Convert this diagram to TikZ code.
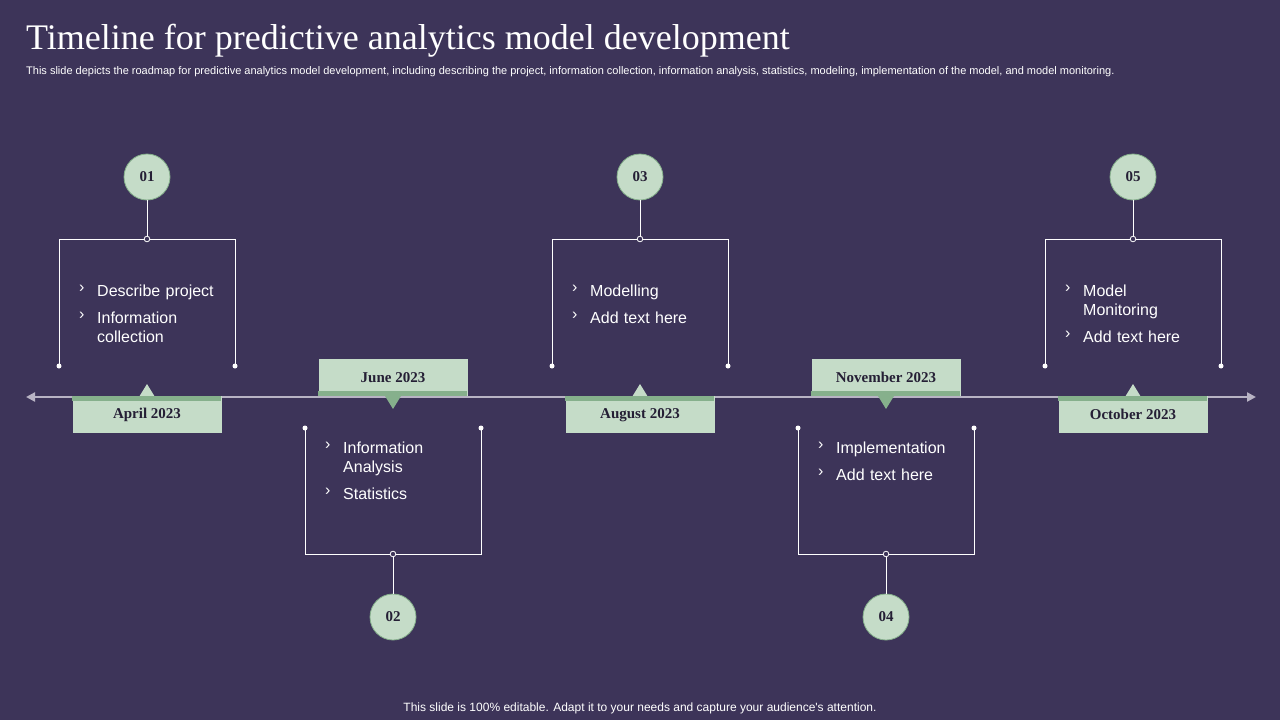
\documentclass[tikz,border=0pt]{standalone}
\usepackage{fontspec}
\setmainfont{Liberation Serif}
\newfontfamily\sans{Liberation Sans}
\usetikzlibrary{arrows.meta}
\definecolor{bg}{HTML}{3D3459}
\definecolor{lg}{HTML}{C5DCC8}
\definecolor{dg}{HTML}{86B08C}
\definecolor{tl}{HTML}{B8B3C4}
\tikzset{
 numc/.style={circle,fill=lg,draw=dg,line width=0.8pt,minimum size=46pt,inner sep=0pt,font=\fontsize{15}{15}\selectfont\bfseries,text=bg!60!black},
 datebox/.style={fill=lg,minimum width=149pt,minimum height=37pt,inner sep=0pt,font=\fontsize{15}{15}\selectfont\bfseries,text=bg!60!black},
 brk/.style={draw=white,line width=1pt},
 item/.style={anchor=north west,align=left,text=white,font=\sans\fontsize{16}{19}\selectfont,inner sep=0pt,text width=130pt},
 bul/.style={anchor=north west,text=white,font=\sans\fontsize{16}{19}\selectfont,inner sep=0pt}
}
\begin{document}
\begin{tikzpicture}[x=1pt,y=-1pt]
\fill[bg] (0,0) rectangle (1280,720);
\useasboundingbox (0,0) rectangle (1280,720);
\node[anchor=west,text=white,font=\fontsize{36}{36}\selectfont,inner sep=0pt] (title) at (26,41) {Timeline for predictive analytics model development};
\node[anchor=west,text=white,font=\sans\fontsize{11}{11}\selectfont,inner sep=0pt] (sub) at (26,72) {This slide depicts the roadmap for predictive analytics model development, including describing the project, information collection, information analysis, statistics, modeling, implementation of the model, and model monitoring.};
\node[text=white,font=\sans\fontsize{12}{12}\selectfont,inner sep=0pt] (foot) at (640,708) {This slide is 100\% editable. Adapt it to your needs and capture your audience's attention.};
\coordinate (L) at (26,397); \coordinate (R) at (1256,397);
\draw[tl,line width=2.5pt,{Triangle[length=9pt,width=9pt]}-{Triangle[length=9pt,width=9pt]}] (L) -- (R);
% top milestones
\foreach \cx/\n/\d in {147/01/April 2023,640/03/August 2023,1133/05/October 2023}{
 \fill[lg] (\cx-8,397) -- (\cx,384) -- (\cx+8,397) -- cycle;
 \node[datebox,anchor=north] (d\n) at (\cx,396) {\d};
 \fill[dg] (\cx-75,396) rectangle (\cx+74,401);
 \node[numc] (c\n) at (\cx,177) {\n};
 \coordinate (j\n) at (\cx,239);
 \draw[brk] (c\n) -- (j\n);
 \draw[brk] (\cx-88,366) -- (\cx-88,239) -- (\cx+88,239) -- (\cx+88,366);
 \fill[white] (\cx-88,366) circle (2.5pt) (\cx+88,366) circle (2.5pt);
 \draw[white,fill=bg,line width=0.8pt] (j\n) circle (2.8pt);
}
% bottom milestones
\foreach \cx/\n/\d in {393/02/June 2023,886/04/November 2023}{
 \node[datebox,anchor=south] (d\n) at (\cx,396) {\d};
 \fill[dg] (\cx-75,391) rectangle (\cx+74,396);
 \fill[dg] (\cx-8,396) -- (\cx,409) -- (\cx+8,396) -- cycle;
 \node[numc] (c\n) at (\cx,617) {\n};
 \coordinate (j\n) at (\cx,554);
 \draw[brk] (c\n) -- (j\n);
 \draw[brk] (\cx-88,428) -- (\cx-88,554) -- (\cx+88,554) -- (\cx+88,428);
 \fill[white] (\cx-88,428) circle (2.5pt) (\cx+88,428) circle (2.5pt);
 \draw[white,fill=bg,line width=0.8pt] (j\n) circle (2.8pt);
}
% texts
\foreach \cx/\y/\t [count=\k] in {147/285/Describe project,147/312/Information\\collection,640/285/Modelling,640/312/Add text here,1133/285/Model\\Monitoring,1133/331/Add text here,393/442/Information\\Analysis,393/488/Statistics,886/442/Implementation,886/469/Add text here}{
 \node[bul] (b\k) at (\cx-68,\y) {›};
 \node[item] (t\k) at (\cx-50,\y) {\t};
}
\end{tikzpicture}
\end{document}
